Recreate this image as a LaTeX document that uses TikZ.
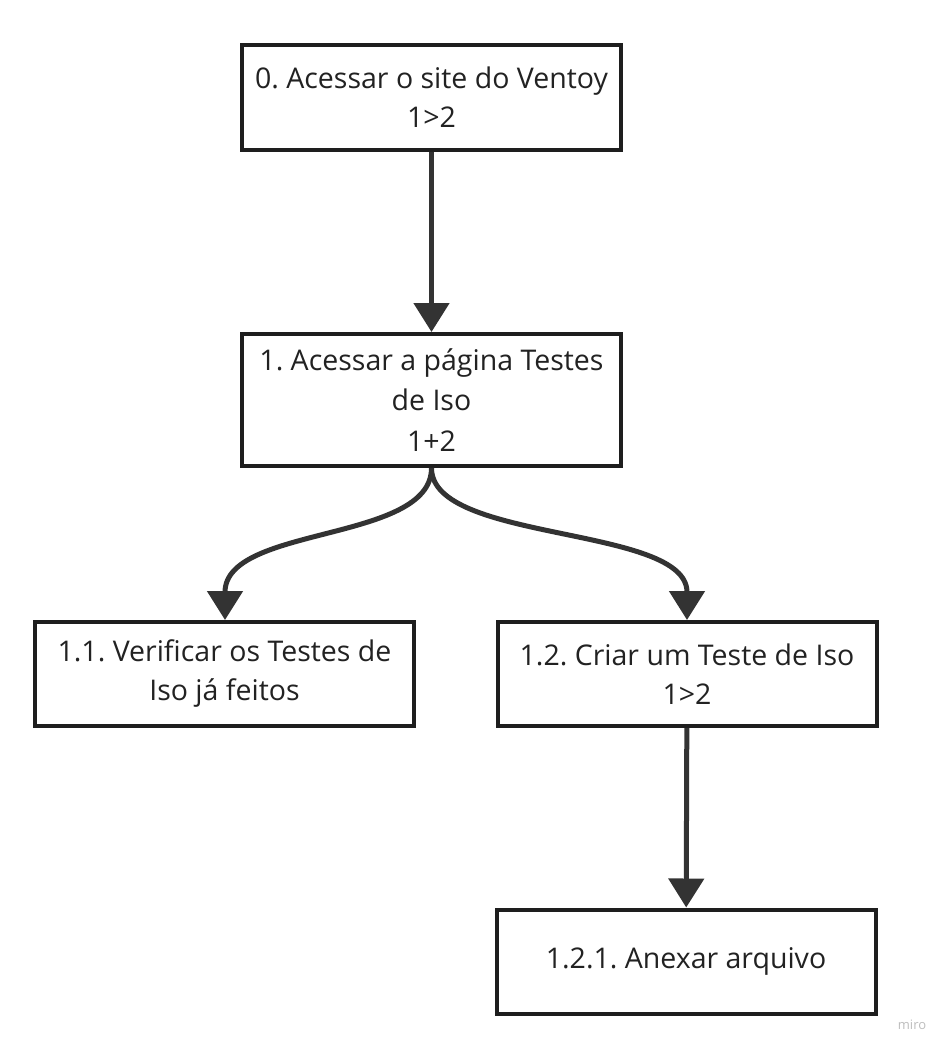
\documentclass[tikz,border=0pt]{standalone}
\usepackage{fontspec}
\setmainfont{Open Sans}
\usetikzlibrary{arrows.meta}
\definecolor{boxline}{HTML}{1E1E1E}
\definecolor{flowline}{HTML}{333333}
\definecolor{boxtext}{HTML}{222222}
\definecolor{mirogray}{HTML}{BDBDBD}
\frenchspacing

\begin{document}
\begin{tikzpicture}[x=1pt, y=-1pt,
    stepbox/.style={draw=boxline, line width=4pt, fill=white, text=boxtext,
      minimum width=379pt, minimum height=104pt, inner sep=0pt, align=center,
      font=\fontsize{28.5}{39}\selectfont},
    flow/.style={draw=flowline, line width=5pt,
      -{Triangle[length=29pt,width=35pt]}},
  ]
  \useasboundingbox (0,0) rectangle (950,1051);

  \node [stepbox, minimum height=105pt] (site) at (431.5,97.5)
        {0. Acessar o site do Ventoy\\1>2};
  \node [stepbox, minimum height=132pt, font=\fontsize{28.5}{40.5}\selectfont]
        (testes) at (431.5,400) {1. Acessar a página Testes\\de Iso\\1+2};
  \node [stepbox] (verificar) at (224.5,674) {1.1. Verificar os Testes de\\Iso já feitos};
  \node [stepbox] (criar)     at (687,674)   {1.2. Criar um Teste de Iso\\1>2};
  \node [stepbox] (anexar)    at (686,961.5) {1.2.1. Anexar arquivo};

  \draw [flow] (site) -- (testes);
  \draw [flow] (testes.south) .. controls +(0,75) and +(0,-95) .. (verificar.north -| 225,0);
  \draw [flow] (testes.south) .. controls +(0,75) and +(0,-95) .. (criar.north);
  \draw [flow] (criar) -- (anexar);

  \node [text=mirogray, font=\fontsize{13}{15}\selectfont] (miro) at (912,1025) {miro};
\end{tikzpicture}
\end{document}
